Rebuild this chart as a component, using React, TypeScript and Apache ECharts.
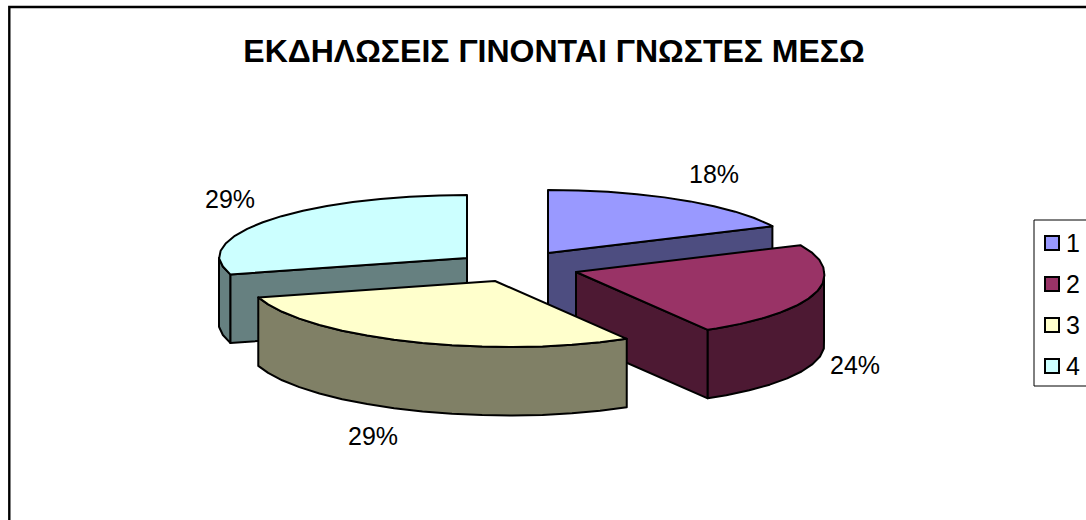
import React, { useEffect, useRef } from "react";
import * as echarts from "echarts";

const titleText = "ΕΚΔΗΛΩΣΕΙΣ ΓΙΝΟΝΤΑΙ ΓΝΩΣΤΕΣ ΜΕΣΩ";
const categories = ["1", "2", "3", "4"];
const values = [18, 24, 29, 29];

const topColors = ["#9999FF", "#993366", "#FFFFCC", "#CCFFFF"];
const sideColors = ["#4D4D80", "#4D1933", "#808066", "#668080"];
const drawOrder = [1, 3, 4, 2];

// Layout of the exploded 3D pie
const centerX = 508;
const centerY = 265;
const explodeX = [40, 68, -13, -41];
const explodeY = [-12, 7, 16, -7];
const labelX = [714, 855, 373, 230];
const labelY = [174, 365, 436, 199];
const radiusX = 248;
const radiusBack = 63;
const radiusFront = 66;
const shear = 14;
const depth = 68.5;
const arcStep = 7;

const total = values.reduce((a, b) => a + b, 0);
const startAngles = values.map((_, i) => (values.slice(0, i).reduce((a, b) => a + b, 0) / total) * 360);

function rim(ax: number, ay: number, deg: number): number[] {
  const t = (deg * Math.PI) / 180;
  const c = -Math.cos(t);
  const y = c * (c > 0 ? radiusFront : radiusBack);
  const s = c > 0 ? c * shear : 0;
  return [ax + Math.sin(t) * radiusX + s, ay + y];
}

function arcPoints(ax: number, ay: number, from: number, to: number): number[][] {
  const pts: number[][] = [];
  for (let d = from; d < to; d += arcStep) pts.push(rim(ax, ay, d));
  pts.push(rim(ax, ay, to));
  return pts;
}

const down = (p: number[]) => [p[0], p[1] + depth];

function sliceItem(i: number) {
  const ax = centerX + explodeX[i];
  const ay = centerY + explodeY[i];
  const from = startAngles[i];
  const to = from + (values[i] / total) * 360;
  const border = { stroke: "#000", lineWidth: 2, lineJoin: "round" };
  const side = { fill: sideColors[i], ...border };
  const children: any[] = [];
  const apex = [ax, ay];
  if (from > 180 && from < 360) {
    const p = rim(ax, ay, from);
    children.push({ type: "polygon", shape: { points: [apex, p, down(p), down(apex)] }, style: side });
  }
  if (to > 0 && to < 180) {
    const p = rim(ax, ay, to);
    children.push({ type: "polygon", shape: { points: [apex, p, down(p), down(apex)] }, style: side });
  }
  const wallFrom = Math.max(from, 90);
  const wallTo = Math.min(to, 270);
  if (wallTo > wallFrom) {
    const arc = arcPoints(ax, ay, wallFrom, wallTo);
    children.push({
      type: "polygon",
      shape: { points: [...arc, ...arc.slice().reverse().map(down)] },
      style: side,
    });
  }
  children.push({
    type: "polygon",
    shape: { points: [apex, ...arcPoints(ax, ay, from, to)] },
    style: { fill: topColors[i], ...border },
  });
  children.push({
    type: "text",
    x: labelX[i],
    y: labelY[i],
    style: {
      text: `${Math.round((values[i] / total) * 100)}%`,
      fill: "#000",
      fontSize: 25,
      fontFamily: "Liberation Sans",
      align: "center",
      verticalAlign: "middle",
    },
  });
  return { type: "group", children };
}

export default function App() {
  const ref = useRef<HTMLDivElement>(null);
  useEffect(() => {
    document.body.style.margin = "0";
    const chart = echarts.init(ref.current!, null, { renderer: "svg" });
    chart.setOption({
      animation: false,
      backgroundColor: "#fff",
      title: {
        text: titleText,
        left: 549,
        top: 30,
        textAlign: "center",
        textStyle: { fontFamily: "Liberation Sans", fontWeight: "bold", fontSize: 32, color: "#000" },
      },
      legend: {
        orient: "vertical",
        left: 1034,
        top: 220,
        padding: [9.5, 8, 6.5, 10],
        itemWidth: 14,
        itemHeight: 14,
        itemGap: 14,
        backgroundColor: "#fff",
        borderColor: "#000",
        borderWidth: 1,
        textStyle: { fontFamily: "Liberation Sans", fontSize: 25, color: "#000", padding: [0, 0, 0, 2], lineHeight: 27 },
        data: categories.map((name, i) => ({
          name,
          icon: "rect",
          itemStyle: { color: topColors[i], borderColor: "#000", borderWidth: 2 },
        })),
      },
      graphic: [
        {
          type: "rect",
          silent: true,
          shape: { x: 9.3, y: 7, width: 1400, height: 900 },
          style: { fill: "none", stroke: "#000", lineWidth: 2.4 },
        },
      ],
      series: categories.map((name, i) => ({
        type: "custom",
        name,
        coordinateSystem: "none",
        z: drawOrder[i],
        itemStyle: { color: topColors[i] },
        data: [[values[i]]],
        renderItem: () => sliceItem(i),
      })),
    });
    return () => chart.dispose();
  }, []);
  return <div ref={ref} style={{ width: 1086, height: 520 }} />;
}
